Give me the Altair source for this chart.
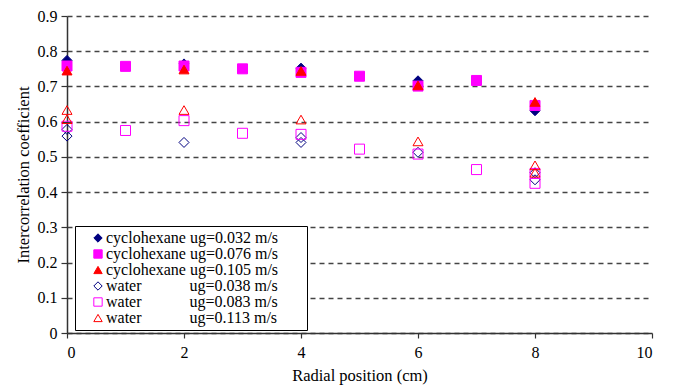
import altair as alt
import pandas as pd

series_names = [
    "cyclohexane ug=0.032 m/s",
    "cyclohexane ug=0.076 m/s",
    "cyclohexane ug=0.105 m/s",
    "water ug=0.038 m/s",
    "water ug=0.083 m/s",
    "water ug=0.113 m/s",
]

c032_x = [0, 2, 4, 6, 8]
c032_y = [0.774, 0.764, 0.752, 0.716, 0.631]

c076_x = [0, 1, 2, 3, 4, 5, 6, 7, 8]
c076_y = [0.758, 0.757, 0.758, 0.750, 0.740, 0.729, 0.701, 0.717, 0.646]

c105_x = [0, 2, 4, 6, 8]
c105_y = [0.745, 0.748, 0.744, 0.703, 0.656]

w038_x = [0, 0, 2, 4, 4, 6, 8, 8]
w038_y = [0.578, 0.559, 0.541, 0.555, 0.541, 0.513, 0.455, 0.435]

w083_x = [0, 1, 2, 3, 4, 5, 6, 7, 8, 8]
w083_y = [0.587, 0.575, 0.603, 0.567, 0.564, 0.522, 0.508, 0.464, 0.453, 0.425]

w113_x = [0, 0, 2, 4, 6, 8, 8]
w113_y = [0.633, 0.607, 0.633, 0.606, 0.544, 0.476, 0.455]

xs = [c032_x, c076_x, c105_x, w038_x, w083_x, w113_x]
ys = [c032_y, c076_y, c105_y, w038_y, w083_y, w113_y]

rows = []
for name, sx, sy in zip(series_names, xs, ys):
    for a, b in zip(sx, sy):
        rows.append({"series": name, "x": a, "y": b})
df = pd.DataFrame(rows)

stroke_colors = ["#000080", "#FF00FF", "#FF0000", "#000080", "#FF00FF", "#FF0000"]
fill_colors = ["#000080", "#FF00FF", "#FF0000", "transparent", "transparent", "transparent"]
shapes = ["diamond", "square", "triangle-up", "diamond", "square", "triangle-up"]

FONT = "Liberation Serif"
nb = "\u00a0"
label_expr = ("replace(datum.label, 'water ', 'water" + nb * 12 + "') + '"
              + nb * 6 + "\u200b'")

legend = alt.Legend(
    title=None,
    orient="none",
    legendX=8,
    legendY=210,
    strokeColor="black",
    fillColor="white",
    padding=4,
    labelFont=FONT,
    labelFontSize=16,
    labelColor="black",
    labelLimit=400,
    symbolSize=70,
    symbolStrokeWidth=1,
    symbolOffset=11,
    labelOffset=0,
    rowPadding=0,
    labelExpr=label_expr,
)

scale_stroke = alt.Scale(domain=series_names, range=stroke_colors)
scale_fill = alt.Scale(domain=series_names, range=fill_colors)
scale_shape = alt.Scale(domain=series_names, range=shapes)

chart = alt.Chart(df).mark_point(opacity=1, strokeWidth=1, size=100).encode(
    x=alt.X(
        "x:Q",
        scale=alt.Scale(domain=[0, 10], nice=False),
        axis=alt.Axis(
            title="Radial position (cm)",
            values=[0, 2, 4, 6, 8, 10],
            grid=False,
            tickSize=5,
            labelPadding=6,
            titlePadding=7,
        ),
    ),
    y=alt.Y(
        "y:Q",
        scale=alt.Scale(domain=[0, 0.9], nice=False),
        axis=alt.Axis(
            title="Intercorrelation coefficient",
            values=[0, 0.1, 0.2, 0.3, 0.4, 0.5, 0.6, 0.7, 0.8, 0.9],
            format=".1~f",
            grid=True,
            gridDash=[5, 4],
            gridColor="#444444",
            gridWidth=1.3,
            tickSize=6,
            labelPadding=4,
            titlePadding=6,
        ),
    ),
    stroke=alt.Stroke("series:N", scale=scale_stroke, legend=legend, sort=series_names),
    fill=alt.Fill("series:N", scale=scale_fill, legend=legend, sort=series_names),
    shape=alt.Shape("series:N", scale=scale_shape, legend=legend, sort=series_names),
    order=alt.Order("idx:Q"),
).transform_calculate(
    idx="indexof(" + str(series_names).replace('"', "'") + ", datum.series)"
).properties(
    width=585,
    height=317,
    autosize=alt.AutoSizeParams(type="none"),
    padding={"left": 59, "top": 8, "right": 22, "bottom": 52},
).configure_view(
    stroke=None
).configure_axis(
    labelFont=FONT,
    titleFont=FONT,
    labelFontSize=16,
    titleFontSize=16.5,
    titleFontWeight="normal",
    labelColor="black",
    titleColor="black",
    domainColor="#333333",
    domainWidth=1.5,
    tickColor="#333333",
    tickWidth=1.2,
)

chart.save("out.html", embed_options={"renderer": "svg", "actions": False})
